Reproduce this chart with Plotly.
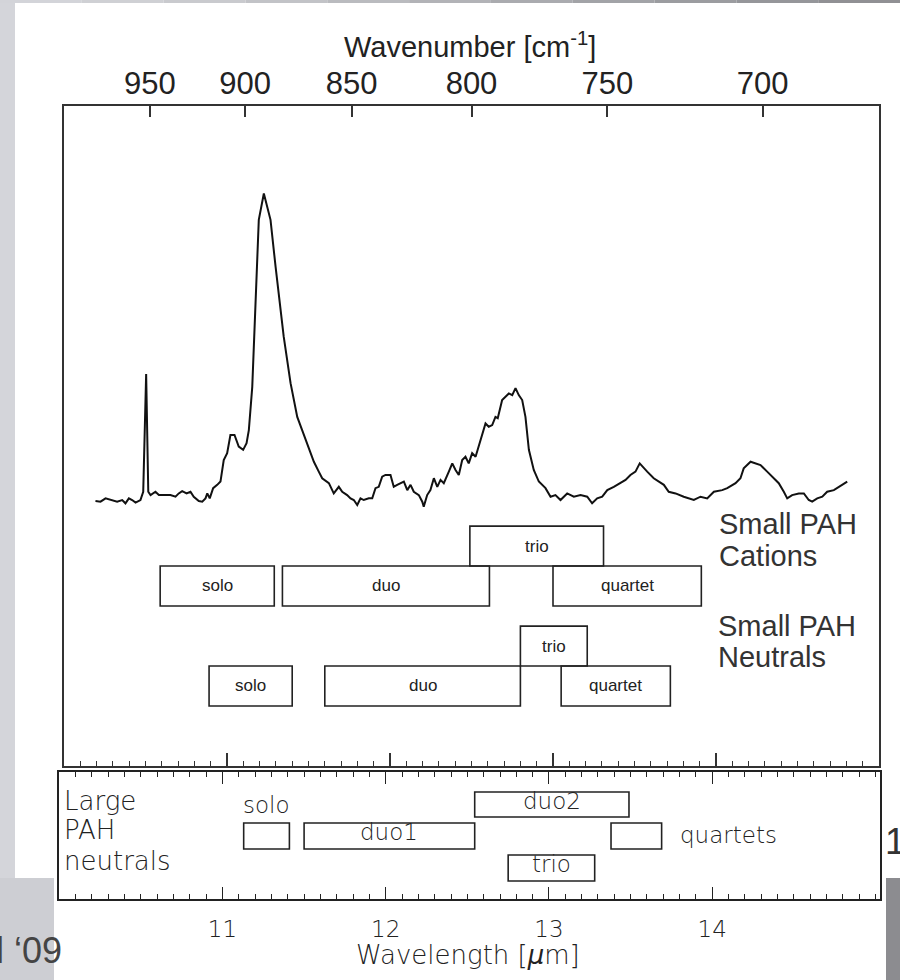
import plotly.graph_objects as go

# Emission spectrum: wavelength in micron, flux in arbitrary units
wavelength = [10.193, 10.224, 10.255, 10.285, 10.326, 10.357, 10.377, 10.398, 10.418, 10.439,
              10.469, 10.486, 10.504, 10.517, 10.531, 10.561, 10.582, 10.612, 10.653, 10.684,
              10.704, 10.725, 10.752, 10.776, 10.796, 10.827, 10.848, 10.868, 10.879, 10.894,
              10.915, 10.940, 10.960, 10.980, 11.001, 11.021, 11.046, 11.072, 11.099, 11.120,
              11.134, 11.155, 11.175, 11.195, 11.226, 11.267, 11.298, 11.328, 11.348, 11.390,
              11.431, 11.461, 11.492, 11.533, 11.563, 11.584, 11.625, 11.655, 11.686, 11.707,
              11.737, 11.758, 11.778, 11.799, 11.819, 11.839, 11.870, 11.891, 11.911, 11.931,
              11.952, 11.972, 12.003, 12.023, 12.044, 12.064, 12.085, 12.106, 12.126, 12.146,
              12.177, 12.198, 12.207, 12.228, 12.248, 12.269, 12.290, 12.310, 12.330, 12.361,
              12.382, 12.402, 12.422, 12.443, 12.463, 12.483, 12.504, 12.525, 12.555, 12.586,
              12.606, 12.627, 12.647, 12.661, 12.688, 12.709, 12.729, 12.750, 12.770, 12.790,
              12.811, 12.831, 12.852, 12.882, 12.913, 12.954, 12.985, 13.015, 13.046, 13.087,
              13.128, 13.169, 13.210, 13.240, 13.271, 13.302, 13.333, 13.373, 13.414, 13.445,
              13.475, 13.506, 13.532, 13.553, 13.578, 13.618, 13.649, 13.680, 13.710, 13.752,
              13.802, 13.864, 13.905, 13.946, 13.987, 14.038, 14.069, 14.120, 14.150, 14.170,
              14.212, 14.242, 14.273, 14.314, 14.345, 14.385, 14.416, 14.437, 14.467, 14.508,
              14.539, 14.569, 14.590, 14.621, 14.652, 14.682, 14.723, 14.753, 14.774, 14.805]
flux = [0.803, 0.801, 0.811, 0.806, 0.801, 0.806, 0.796, 0.811, 0.806, 0.798,
        0.806, 0.831, 1.188, 0.831, 0.821, 0.831, 0.821, 0.821, 0.821, 0.816,
        0.826, 0.833, 0.826, 0.831, 0.816, 0.803, 0.801, 0.811, 0.826, 0.811,
        0.842, 0.852, 0.862, 0.927, 0.948, 1.003, 1.003, 0.968, 0.958, 0.978,
        1.018, 1.149, 1.402, 1.655, 1.735, 1.655, 1.513, 1.382, 1.301, 1.160,
        1.058, 1.018, 0.978, 0.922, 0.892, 0.872, 0.857, 0.826, 0.846, 0.831,
        0.821, 0.811, 0.806, 0.791, 0.811, 0.806, 0.811, 0.811, 0.842, 0.846,
        0.877, 0.882, 0.882, 0.846, 0.852, 0.857, 0.862, 0.836, 0.852, 0.831,
        0.821, 0.801, 0.786, 0.821, 0.836, 0.872, 0.846, 0.867, 0.857, 0.892,
        0.917, 0.897, 0.882, 0.927, 0.937, 0.917, 0.948, 0.937, 0.983, 1.038,
        1.028, 1.033, 1.058, 1.054, 1.109, 1.119, 1.129, 1.124, 1.145, 1.124,
        1.109, 1.058, 0.958, 0.897, 0.862, 0.842, 0.816, 0.821, 0.806, 0.826,
        0.816, 0.821, 0.816, 0.796, 0.811, 0.816, 0.836, 0.846, 0.858, 0.867,
        0.882, 0.892, 0.917, 0.907, 0.892, 0.872, 0.862, 0.852, 0.831, 0.826,
        0.816, 0.806, 0.816, 0.811, 0.831, 0.836, 0.842, 0.857, 0.872, 0.902,
        0.922, 0.917, 0.912, 0.892, 0.877, 0.857, 0.831, 0.811, 0.821, 0.826,
        0.826, 0.806, 0.801, 0.811, 0.816, 0.831, 0.836, 0.846, 0.852, 0.862]

# Top axis: wavenumber tick values (cm^-1)
wavenumber_ticks = [950, 900, 850, 800, 750, 700]
# Bottom axis: wavelength tick values (micron)
wavelength_ticks = [11, 12, 13, 14]

# C-H out-of-plane bending ranges (micron)
cation_modes = ["solo", "duo", "trio", "quartet"]
cation_lo = [10.59, 11.34, 12.49, 13.00]
cation_hi = [11.29, 12.61, 13.31, 13.91]

neutral_modes = ["solo", "duo", "trio", "quartet"]
neutral_lo = [10.89, 11.60, 12.80, 13.05]
neutral_hi = [11.40, 12.80, 13.21, 13.72]

large_modes = ["solo", "duo1", "duo2", "trio", "quartets"]
large_lo = [11.13, 11.50, 12.545, 12.75, 13.38]
large_hi = [11.41, 12.545, 13.49, 13.28, 13.69]

W, H = 900, 980
PLAIN = "Liberation Sans, Arial, sans-serif"
THIN = "DejaVu Sans, Noto Sans, sans-serif"
INK = "#222222"


def px_x(p):
    return p / W


def px_y(p):
    return 1 - p / H


fig = go.Figure()

fig.add_trace(go.Scatter(x=wavelength, y=flux, mode="lines",
                         line=dict(color="#111111", width=2),
                         xaxis="x", yaxis="y", showlegend=False, hoverinfo="skip"))
# invisible trace so the top (wavenumber) axis is rendered
fig.add_trace(go.Scatter(x=[10, 15], y=[0, 0], mode="markers", marker=dict(opacity=0),
                         xaxis="x2", yaxis="y", showlegend=False, hoverinfo="skip"))
# invisible trace for the lower panel
fig.add_trace(go.Scatter(x=[10, 15], y=[0, 0], mode="markers", marker=dict(opacity=0),
                         xaxis="x3", yaxis="y3", showlegend=False, hoverinfo="skip"))

shapes = []
annotations = []

# slide background pieces
shapes += [
    dict(type="rect", xref="paper", yref="paper", x0=0, x1=px_x(15), y0=px_y(878), y1=1,
         fillcolor="#d4d5da", line_width=0, layer="below"),
    dict(type="rect", xref="paper", yref="paper", x0=0, x1=px_x(54), y0=0, y1=px_y(878),
         fillcolor="#cdced3", line_width=0, layer="below"),
    dict(type="rect", xref="paper", yref="paper", x0=px_x(886), x1=1, y0=0, y1=px_y(878),
         fillcolor="#8c8c90", line_width=0, layer="below"),
]
top_greys = ["#d3d4d9", "#cfd0d4", "#c9cace", "#c2c3c7", "#babbbf", "#b2b3b7", "#aaabaf",
             "#a2a3a7", "#9b9ca0", "#95969a", "#909094"]
seg = W / len(top_greys)
for i, c in enumerate(top_greys):
    shapes.append(dict(type="rect", xref="paper", yref="paper", x0=i * seg / W,
                       x1=(i + 1) * seg / W, y0=px_y(3), y1=1, fillcolor=c,
                       line_width=0, layer="below"))


def band_boxes(modes, lo, hi, rows, xr, yr):
    for m, a, b in zip(modes, lo, hi):
        y0, y1 = rows[m]
        shapes.append(dict(type="rect", xref=xr, yref=yr, x0=a, x1=b, y0=y0, y1=y1,
                           line=dict(color=INK, width=1.6), fillcolor="rgba(0,0,0,0)"))


# main panel rows, in flux units
cation_rows = {"solo": (0.485, 0.606), "duo": (0.485, 0.606),
               "quartet": (0.485, 0.606), "trio": (0.606, 0.727)}
neutral_rows = {"solo": (0.182, 0.303), "duo": (0.182, 0.303),
                "quartet": (0.182, 0.303), "trio": (0.303, 0.424)}
band_boxes(cation_modes, cation_lo, cation_hi, cation_rows, "x", "y")
band_boxes(neutral_modes, neutral_lo, neutral_hi, neutral_rows, "x", "y")
for modes, lo, hi, rows in [(cation_modes, cation_lo, cation_hi, cation_rows),
                            (neutral_modes, neutral_lo, neutral_hi, neutral_rows)]:
    for m, a, b in zip(modes, lo, hi):
        y0, y1 = rows[m]
        annotations.append(dict(x=(a + b) / 2, y=(y0 + y1) / 2, xref="x", yref="y",
                                text=m, showarrow=False, yanchor="middle",
                                font=dict(family=PLAIN, size=17, color=INK)))

# lower panel rows (0..1 panel height)
large_rows = {"duo2": (0.647, 0.845), "solo": (0.395, 0.600), "duo1": (0.395, 0.600),
              "quartets": (0.395, 0.600), "trio": (0.142, 0.347)}
band_boxes(large_modes, large_lo, large_hi, large_rows, "x3", "y3")
thin_font = dict(family=THIN, size=23, color=INK, weight=200)
for m, a, b in zip(large_modes, large_lo, large_hi):
    y0, y1 = large_rows[m]
    if m == "solo":
        annotations.append(dict(x=(a + b) / 2, y=0.742, xref="x3", yref="y3", text=m,
                                showarrow=False, yanchor="middle", font=thin_font))
    elif m == "quartets":
        annotations.append(dict(x=b + 0.1, y=(y0 + y1) / 2 + 0.01, xref="x3", yref="y3",
                                text=m, showarrow=False, xanchor="left", yanchor="middle",
                                font=thin_font))
    else:
        annotations.append(dict(x=(a + b) / 2, y=(y0 + y1) / 2 + 0.03, xref="x3", yref="y3",
                                text=m, showarrow=False, yanchor="middle", font=thin_font))

for txt, yp in [("Large", 801), ("PAH", 830), ("neutrals", 861)]:
    annotations.append(dict(x=px_x(62), y=px_y(yp), xref="paper", yref="paper", text=txt,
                            showarrow=False, xanchor="left", yanchor="middle",
                            font=dict(family=THIN, size=26, color=INK, weight=200)))

# group labels
for txt, xp, yp in [("Small PAH", 717, 524), ("Cations", 717, 556),
                    ("Small PAH", 716, 626), ("Neutrals", 716, 657)]:
    annotations.append(dict(x=px_x(xp), y=px_y(yp), xref="paper", yref="paper", text=txt,
                            showarrow=False, xanchor="left", yanchor="middle",
                            font=dict(family=PLAIN, size=29, color="#333333")))

# axis titles
annotations.append(dict(x=px_x(470), y=px_y(45), xref="paper", yref="paper",
                        text="Wavenumber [cm<sup>-1</sup>]", showarrow=False,
                        yanchor="middle",
                        font=dict(family=PLAIN, size=29, color=INK)))
annotations.append(dict(x=px_x(468), y=px_y(955), xref="paper", yref="paper",
                        text="Wavelength [<i>μ</i>m]", showarrow=False,
                        yanchor="middle",
                        font=dict(family=THIN, size=26, color=INK, weight=200)))

# slide footer fragments
annotations.append(dict(x=px_x(64), y=px_y(950), xref="paper", yref="paper", text="l ‘09",
                        showarrow=False, xanchor="right", yanchor="middle",
                        font=dict(family=PLAIN, size=36, color="#444444")))
annotations.append(dict(x=px_x(883), y=px_y(841), xref="paper", yref="paper", text="1",
                        showarrow=False, xanchor="left", yanchor="middle",
                        font=dict(family=PLAIN, size=37, color="#333333")))

fig.update_layout(
    width=W, height=H,
    margin=dict(l=0, r=0, t=0, b=0),
    paper_bgcolor="white", plot_bgcolor="rgba(0,0,0,0)",
    shapes=shapes, annotations=annotations,
    xaxis=dict(domain=[px_x(64), px_x(879)], range=[10, 15], anchor="y",
               showline=True, mirror=True, linecolor="#333333", linewidth=2,
               showgrid=False, zeroline=False, showticklabels=False,
               tickmode="array", tickvals=wavelength_ticks, ticks="inside", ticklen=13,
               tickwidth=1.5, tickcolor="#333333",
               minor=dict(dtick=0.1, tick0=10, ticks="inside", ticklen=5, tickwidth=1.2,
                          tickcolor="#333333", showgrid=False)),
    yaxis=dict(domain=[px_y(766), px_y(106)], range=[0, 2], anchor="x",
               showline=True, mirror=True, linecolor="#333333", linewidth=2,
               showgrid=False, zeroline=False, showticklabels=False, ticks=""),
    xaxis2=dict(overlaying="x", side="top", anchor="y", range=[10, 15],
                tickmode="array", tickvals=[1e4 / w for w in wavenumber_ticks],
                ticktext=[str(w) for w in wavenumber_ticks],
                ticks="inside", ticklen=11, tickwidth=1.5, tickcolor="#333333",
                showline=False, showgrid=False, zeroline=False,
                ticklabelstandoff=5,
                tickfont=dict(family=PLAIN, size=31, color=INK)),
    xaxis3=dict(domain=[px_x(59.2), px_x(880.4)], range=[10.0, 15.03], anchor="y3",
                showline=True, mirror="ticks", linecolor=INK, linewidth=1.6,
                showgrid=False, zeroline=False,
                tickmode="array", tickvals=wavelength_ticks,
                ticks="inside", ticklen=12, tickwidth=1.2, tickcolor=INK,
                ticklabelstandoff=9,
                tickfont=dict(family=THIN, size=23, color=INK, weight=200),
                minor=dict(dtick=0.1, tick0=10, ticks="inside", ticklen=5, tickwidth=1.2,
                           tickcolor=INK, showgrid=False)),
    yaxis3=dict(domain=[px_y(899), px_y(772.3)], range=[0, 1], anchor="x3",
                showline=True, mirror=True, linecolor=INK, linewidth=1.6,
                showgrid=False, zeroline=False, showticklabels=False, ticks=""),
)

fig.write_html("out.html")
